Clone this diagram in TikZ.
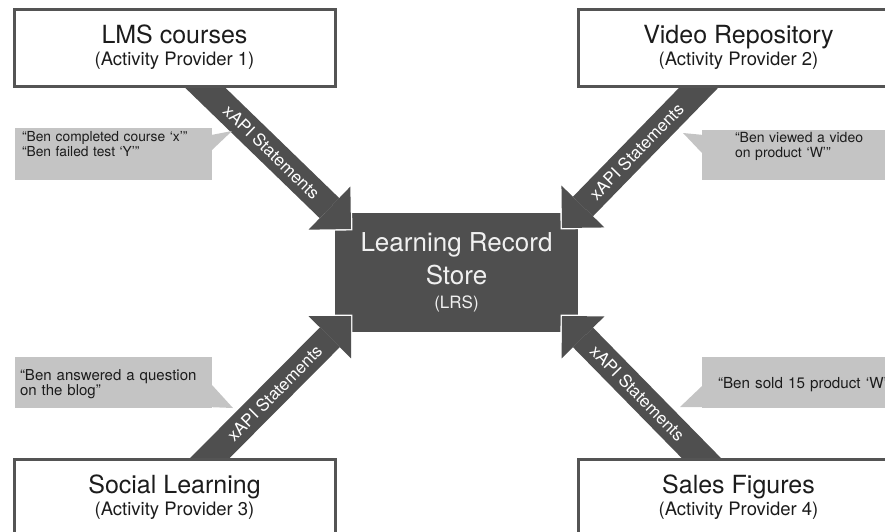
\documentclass[tikz,border=0pt]{standalone}
\usepackage{fontspec}
\setmainfont{TeX Gyre Heros}
\usetikzlibrary{arrows.meta,calc}

\definecolor{storegray}{HTML}{4F4F4F}
\definecolor{edgegray}{HTML}{545454}
\definecolor{notegray}{HTML}{C4C4C4}
\definecolor{inkgray}{HTML}{1C1C1C}

\begin{document}
\begin{tikzpicture}[x=1pt,y=-1pt,
  provider/.style={draw=edgegray,line width=3pt,fill=white,minimum width=321pt,minimum height=77pt,
    inner sep=0pt,align=center,text=inkgray,font=\fontsize{18.5}{22}\selectfont},
  store/.style={fill=storegray,minimum width=243pt,minimum height=119pt,inner sep=0pt,
    align=center,text=white!94!black,font=\fontsize{26}{33}\selectfont},
  feedrim/.style={draw=white,line width=31pt,shorten >=-2pt,
    -{Triangle[length=34pt,width=68pt,line width=0pt]}},
  feed/.style={draw=storegray,line width=28pt,
    -{Triangle[length=30pt,width=60pt,line width=0pt]}},
  feedlabel/.style={sloped,pos=.51,text=white,font=\fontsize{17}{20}\selectfont},
  note/.style={fill=notegray,inner ysep=0pt,text height=10pt,align=left,text=inkgray},
]

\useasboundingbox (0,0) rectangle (885,531);

% store in the middle
\node[store] (lrs) at (456.5,272.5) {Learning Record\\Store\\[-9pt]{\fontsize{17}{20}\selectfont (LRS)}};

% arrows: tail inside the provider box, tip on a corner of the store
\coordinate (s1) at (189,72);  \coordinate (t1) at (351,229);
\coordinate (s2) at (714,72);  \coordinate (t2) at (562,228);
\coordinate (s3) at (195,473); \coordinate (t3) at (351,316);
\coordinate (s4) at (716,473); \coordinate (t4) at (562,316);

\foreach \s/\t in {s1/t1,s2/t2,s3/t3,s4/t4}
  \draw[feedrim] (\s) -- (\t);

\draw[feed] (s1) -- (t1) node[feedlabel] {xAPI Statements};
\draw[feed] (s2) -- (t2) node[feedlabel] {xAPI Statements};
\draw[feed] (s3) -- (t3) node[feedlabel] {xAPI Statements};
\draw[feed] (s4) -- (t4) node[feedlabel] {xAPI Statements};

% activity providers
\node[provider] (lms) at (174.5,47.5) {{\fontsize{25}{30}\selectfont LMS courses}\\(Activity Provider 1)};
\node[provider] (video) at (738.5,47.5) {{\fontsize{25}{30}\selectfont Video Repository}\\(Activity Provider 2)};
\node[provider] (social) at (174.5,497.5) {{\fontsize{25}{30}\selectfont Social Learning}\\(Activity Provider 3)};
\node[provider] (sales) at (738.5,497.5) {{\fontsize{25}{30}\selectfont Sales Figures}\\(Activity Provider 4)};

% statements
\node[note,font=\fontsize{13.8}{15}\selectfont,text width=183pt,inner xsep=7pt,minimum height=52pt,text depth=34.6pt]
  (n1) at (113.5,154) {“Ben completed course ‘x’”\\“Ben failed test ‘Y’”};
\node[note,font=\fontsize{14}{15}\selectfont,text width=150pt,inner xsep=33pt,minimum height=50pt,text depth=36pt]
  (n2) at (810,155) {“Ben viewed a video\\on product ‘W’”};
\node[note,font=\fontsize{15}{15}\selectfont,text width=187pt,inner xsep=5pt,minimum height=51pt,text depth=13.6pt]
  (n3) at (113.5,382.5) {“Ben answered a question\\on the blog”};
\node[note,font=\fontsize{15.2}{15}\selectfont,text width=190pt,inner xsep=16pt,minimum height=51pt,text height=11pt,text depth=0pt]
  (n4) at (813,382.5) {“Ben sold 15 product ‘W’};

% pointers of the statements
\coordinate (p1) at (232,131);
\coordinate (p2) at (683,133);
\coordinate (p3) at (233,408);
\coordinate (p4) at (680,407);
\fill[notegray] ($(n1.north east)+(0,7)$) -- (p1) -- ($(n1.north east)+(0,22)$) -- cycle;
\fill[notegray] ($(n2.north west)+(0,5)$) -- (p2) -- ($(n2.north west)+(0,23)$) -- cycle;
\fill[notegray] ($(n3.south east)+(0,-23)$) -- (p3) -- ($(n3.south east)+(0,-1)$) -- cycle;
\fill[notegray] ($(n4.south west)+(0,-22)$) -- (p4) -- ($(n4.south west)+(0,-1)$) -- cycle;

\end{tikzpicture}
\end{document}
